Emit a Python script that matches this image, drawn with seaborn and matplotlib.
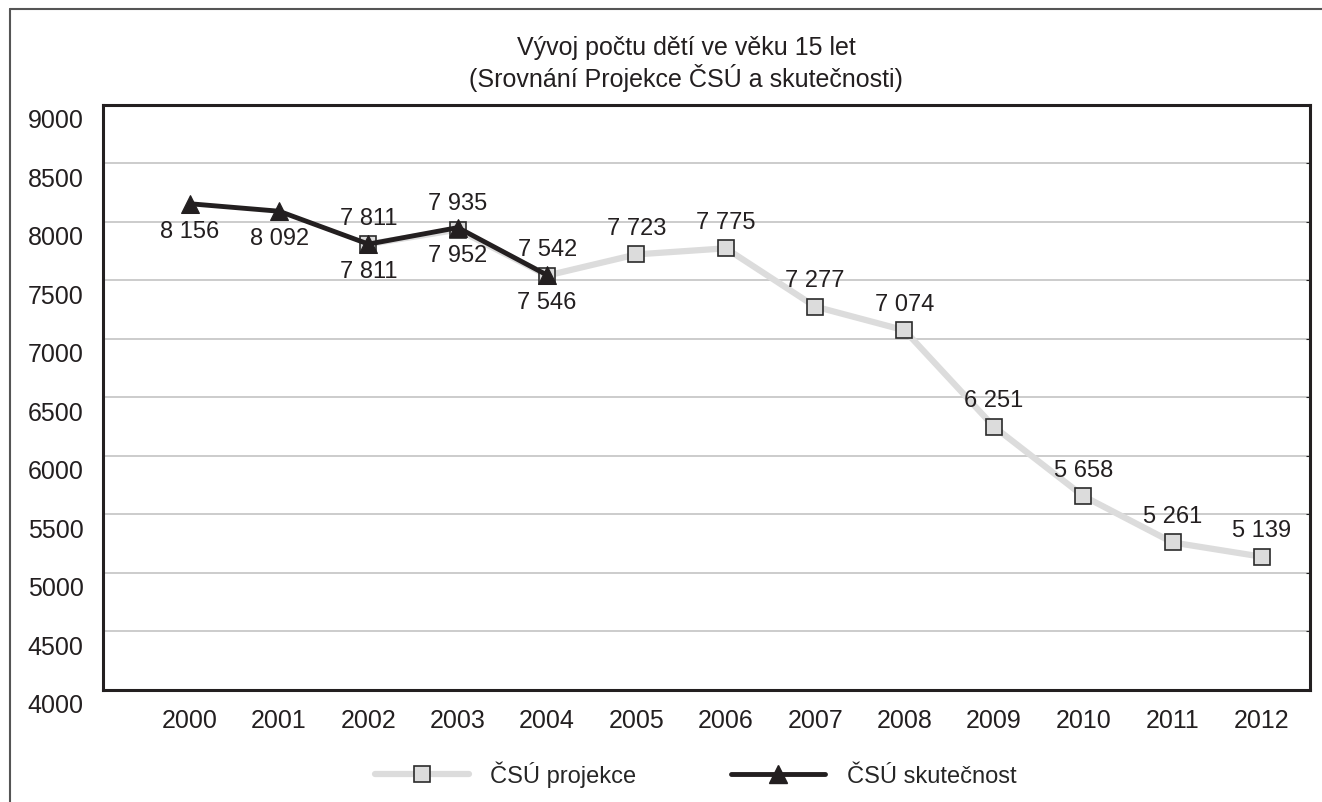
import pandas as pd
import seaborn as sns
import matplotlib.pyplot as plt
import matplotlib.transforms as mtransforms
from matplotlib.lines import Line2D

# Data
years_proj = [2002, 2003, 2004, 2005, 2006, 2007, 2008, 2009, 2010, 2011, 2012]
proj_values = [7811, 7935, 7542, 7723, 7775, 7277, 7074, 6251, 5658, 5261, 5139]
years_real = [2000, 2001, 2002, 2003, 2004]
real_values = [8156, 8092, 7811, 7952, 7546]
all_years = list(range(2000, 2013))
y_ticks = [4000, 4500, 5000, 5500, 6000, 6500, 7000, 7500, 8000, 8500, 9000]

proj = pd.DataFrame({'year': years_proj, 'value': proj_values})
real = pd.DataFrame({'year': years_real, 'value': real_values})

sns.set_style('white')
plt.rcParams['font.family'] = ['Liberation Sans', 'DejaVu Sans']

def fmt(v):
    return '{:,}'.format(v).replace(',', ' ')

fig = plt.figure(figsize=(13.22, 8.03), dpi=100)
ax = fig.add_axes([0.078, 0.1395, 0.913, 0.7285])

sns.lineplot(data=proj, x='year', y='value', ax=ax, color='#dcdcdc', linewidth=4.5,
             marker='s', markersize=11, markerfacecolor='#dcdcdc',
             markeredgecolor='#2b2b2b', markeredgewidth=1.2, zorder=2)
sns.lineplot(data=real, x='year', y='value', ax=ax, color='#231f20', linewidth=3.5,
             marker='^', markersize=13, markerfacecolor='#231f20',
             markeredgecolor='#231f20', zorder=3)

# value labels: projection above, reality below
for x, v in zip(years_proj, proj_values):
    ax.annotate(fmt(v), (x, v), xytext=(0, 19), textcoords='offset points',
                ha='center', va='center', fontsize=17, color='#231f20')
for x, v in zip(years_real, real_values):
    ax.annotate(fmt(v), (x, v), xytext=(0, -19.5), textcoords='offset points',
                ha='center', va='center', fontsize=17, color='#231f20')

ax.set_xlim(1999.03, 2012.54)
ax.set_ylim(4000, 9000)
ax.set_xticks(all_years)
ax.set_xticklabels([str(y) for y in all_years])
ax.set_yticks(y_ticks)
ax.set_yticklabels([str(t) for t in y_ticks])
ax.set_xlabel('')
ax.set_ylabel('')

ax.grid(axis='y', color='#c8c8c8', linewidth=1.3)
ax.grid(axis='x', visible=False)
ax.set_axisbelow(True)
for s in ax.spines.values():
    s.set_visible(True)
    s.set_color('#231f20')
    s.set_linewidth(2.2)

ax.tick_params(axis='x', direction='in', length=9, width=1.6, color='#231f20',
               labelsize=18, pad=13, labelcolor='#231f20')
ax.tick_params(axis='y', left=False, right=True, direction='in', length=3,
               labelsize=18, pad=14, labelcolor='#231f20')

# y labels sit a bit below their gridlines in the original
shift = mtransforms.ScaledTranslation(0, -0.13, fig.dpi_scale_trans)
for lbl in ax.get_yticklabels():
    lbl.set_transform(lbl.get_transform() + shift)

fig.text(0.519, 0.940, 'Vývoj počtu dětí ve věku 15 let', ha='center', va='center',
         fontsize=18, color='#231f20')
fig.text(0.519, 0.903, '(Srovnání Projekce ČSÚ a skutečnosti)', ha='center', va='center',
         fontsize=18, color='#231f20')

handles = [
    Line2D([], [], color='#dcdcdc', linewidth=4.5, marker='s', markersize=11,
           markerfacecolor='#dcdcdc', markeredgecolor='#2b2b2b', markeredgewidth=1.2),
    Line2D([], [], color='#231f20', linewidth=3.5, marker='^', markersize=13,
           markerfacecolor='#231f20'),
]
fig.legend(handles, ['ČSÚ projekce', 'ČSÚ skutečnost'], loc='center',
           bbox_to_anchor=(0.526, 0.035), ncol=2, frameon=False, fontsize=17,
           handlelength=4.0, columnspacing=4.0, handletextpad=0.9)

# outer frame (left and top edges visible)
fig.add_artist(Line2D([10 / 1322, 10 / 1322], [0, 1 - 10 / 803],
                      transform=fig.transFigure, color='#555555', linewidth=1.5))
fig.add_artist(Line2D([10 / 1322, 1], [1 - 10 / 803, 1 - 10 / 803],
                      transform=fig.transFigure, color='#555555', linewidth=1.5))

fig.savefig('out.png', dpi=100)
